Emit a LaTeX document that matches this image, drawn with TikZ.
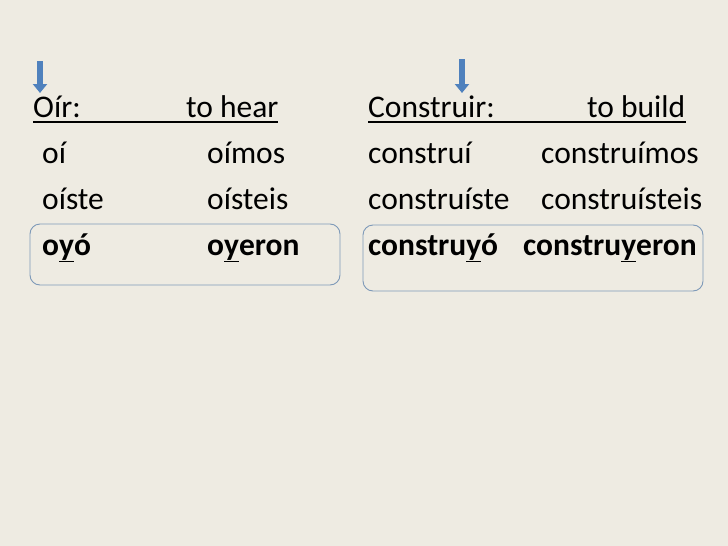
\documentclass[tikz,border=0pt]{standalone}
\usepackage{fontspec}
\setmainfont{Carlito}
\usetikzlibrary{arrows.meta}
\definecolor{bg}{HTML}{EEEBE2}
\definecolor{arr}{HTML}{4F81BD}
\definecolor{boxc}{HTML}{7D99B8}
\begin{document}
\begin{tikzpicture}[x=1pt,y=-1pt,
  txt/.style={anchor=base west,inner sep=0pt,font=\fontsize{31.5}{36}\selectfont},
  btxt/.style={txt,font=\fontsize{31.5}{36}\selectfont\bfseries},
  bx/.style={draw=boxc,line width=0.9pt,rounded corners=10pt},
  darr/.style={arr,line width=6pt,-{Triangle[width=14pt,length=9pt]}}]
\fill[bg] (0,0) rectangle (728,546);
\coordinate (a1s) at (40,61); \coordinate (a1e) at (40,93);
\coordinate (a2s) at (462,59); \coordinate (a2e) at (462,93);
\draw[darr] (a1s) -- (a1e);
\draw[darr] (a2s) -- (a2e);
\node[txt] (h1) at (33,117) {Oír:};
\node[txt] (h1b) at (186,117) {to hear};
\draw[line width=1.2pt] (33,122) -- (278,122);
\node[txt] (l1) at (42,163) {oí};
\node[txt] (l2) at (207,163) {oímos};
\node[txt] (l3) at (42,209) {oíste};
\node[txt] (l4) at (207,209) {oísteis};
\node[btxt] (l5) at (42,255) {o\underline{y}ó};
\node[btxt] (l6) at (207,255) {o\underline{y}eron};
\node[txt] (h2) at (368,117) {Construir:};
\node[txt] (h2b) at (587,117) {to build};
\draw[line width=1.2pt] (368,122) -- (686,122);
\node[txt] (r1) at (368,163) {construí};
\node[txt] (r2) at (541,163) {construímos};
\node[txt] (r3) at (368,209) {construíste};
\node[txt] (r4) at (541,209) {construísteis};
\node[btxt] (r5) at (368,255) {constru\underline{y}ó};
\node[btxt] (r6) at (523,255) {constru\underline{y}eron};
\draw[bx] (30,224) rectangle (340,285);
\draw[bx] (363,225) rectangle (703,291);
\end{tikzpicture}
\end{document}
